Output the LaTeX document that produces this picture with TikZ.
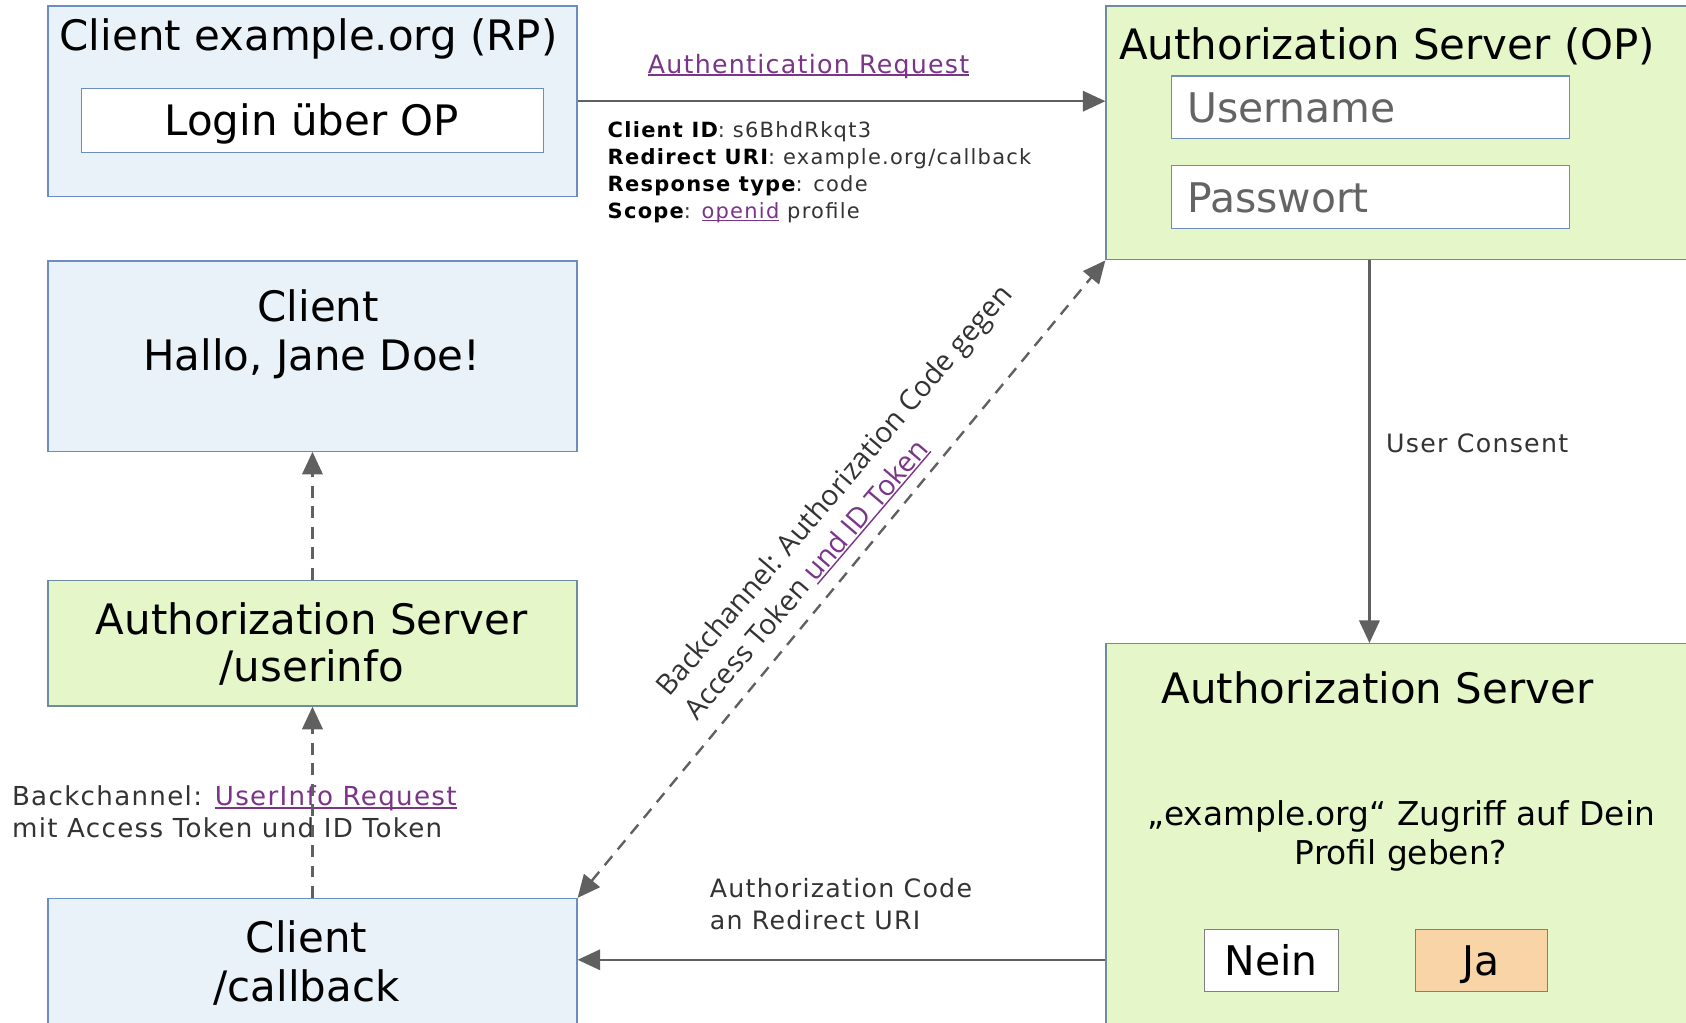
\documentclass[tikz,border=0pt]{standalone}
\usepackage{fontspec}
\setmainfont{DejaVu Sans}
\newfontfamily\lblfont[LetterSpace=5]{DejaVu Sans}
\newfontfamily\prmfont[LetterSpace=6]{DejaVu Sans}
\newfontfamily\diagfont{Open Sans}
\usetikzlibrary{arrows.meta}
\definecolor{bluefill}{RGB}{233,241,249}
\definecolor{blueline}{RGB}{108,142,191}
\definecolor{greenfill}{RGB}{229,246,200}
\definecolor{greenline}{RGB}{110,140,160}
\definecolor{peach}{RGB}{248,212,166}
\definecolor{arrgray}{RGB}{96,96,96}
\definecolor{txtgray}{RGB}{51,51,51}
\definecolor{fieldgray}{RGB}{100,100,100}
\definecolor{linkpurple}{RGB}{122,52,136}
\newcommand\lnk[1]{\setbox0\hbox{#1}\rlap{\rule[-2.5pt]{\wd0}{1.3pt}}\box0}
\begin{document}
\begin{tikzpicture}[x=1pt,y=-1pt,
  box/.style={line width=1.2pt, inner sep=0pt, anchor=north west},
  bluebox/.style={box, draw=blueline, fill=bluefill},
  greenbox/.style={box, draw=greenline, fill=greenfill},
  whitebox/.style={box, draw=blueline, fill=white},
  btnbox/.style={box, draw=arrgray!80, line width=1pt},
  title/.style={inner sep=0pt, anchor=base, font=\fontsize{39}{46}\selectfont},
  field/.style={inner sep=0pt, anchor=base west, text=fieldgray, font=\fontsize{38}{44}\selectfont},
  question/.style={inner sep=0pt, anchor=base, font=\fontsize{30.5}{36}\selectfont},
  lbl/.style={inner sep=0pt, anchor=base west, text=txtgray, font=\lblfont\fontsize{23.5}{30}\selectfont},
  prm/.style={inner sep=0pt, anchor=base west, text=txtgray, font=\prmfont\fontsize{19.5}{25}\selectfont},
  arr/.style={draw=arrgray, line width=2.2pt, -{Triangle[length=21pt,width=19pt]}},
  dsh/.style={arr, dash pattern=on 11pt off 8pt}
]
\useasboundingbox (0,0) rectangle (1568,951);
\clip (0,0) rectangle (1568,951);

% boxes
\node[bluebox, minimum width=492pt, minimum height=177pt] (A) at (44,5) {};
\node[whitebox, minimum width=430pt, minimum height=59pt] (login) at (75,82) {};
\node[greenbox, minimum width=560pt, minimum height=236pt] (B) at (1028,5) {};
\node[whitebox, minimum width=370pt, minimum height=58pt] (user) at (1089,70) {};
\node[whitebox, minimum width=370pt, minimum height=59pt] (pass) at (1089,153) {};
\node[greenbox, minimum width=560pt, minimum height=370pt] (C) at (1028,598) {};
\node[btnbox, fill=white, minimum width=124pt, minimum height=58pt] (nein) at (1120,864) {};
\node[btnbox, fill=peach, minimum width=123pt, minimum height=58pt] (ja) at (1316,864) {};
\node[bluebox, minimum width=492pt, minimum height=130pt] (D) at (44,835) {};
\node[greenbox, minimum width=492pt, minimum height=117pt] (E) at (44,539) {};
\node[bluebox, minimum width=492pt, minimum height=177pt] (F) at (44,242) {};

% box texts
\node[title] (Atitle) at (287,47) {Client example.org (RP)};
\node[title] (logintxt) at (290,126) {Login über OP};
\node[title] (Btitle) at (1290,55) {Authorization Server (OP)};
\node[field] (usertxt) at (1104,114) {Username};
\node[field] (passtxt) at (1104,198) {Passwort};
\node[title] (Ctitle) at (1281,654) {Authorization Server};
\node[question] (q1) at (1303,768) {„example.org“ Zugriff auf Dein};
\node[question] (q2) at (1303,804) {Profil geben?};
\node[title, font=\fontsize{38}{44}\selectfont] (neintxt) at (1182,907) {Nein};
\node[title, font=\fontsize{38}{44}\selectfont] (jatxt) at (1377,907) {Ja};
\node[title] (D1) at (285,886) {Client};
\node[title] (D2) at (285,931) {/callback};
\node[title] (E1) at (290,590) {Authorization Server};
\node[title] (E2) at (290,634) {/userinfo};
\node[title] (F1) at (296,299) {Client};
\node[title] (F2) at (290,345) {Hallo, Jane Doe!};

% labels
\node[lbl, anchor=base] (authreq) at (752,68) {\color{linkpurple}\lnk{Authentication Request}};
\node[prm] (p1) at (565,128) {{\color{black}\bfseries Client ID}: s6BhdRkqt3};
\node[prm] (p2) at (565,153) {{\color{black}\bfseries Redirect URI}: example.org/callback};
\node[prm] (p3) at (565,178) {{\color{black}\bfseries Response type}: code};
\node[prm] (p4) at (565,203) {{\color{black}\bfseries Scope}: {\color{linkpurple}\lnk{openid}} profile};
\node[lbl] (consent) at (1289,421) {User Consent};
\node[lbl] (code1) at (660,834.5) {Authorization Code};
\node[lbl] (code2) at (660,864.5) {an Redirect URI};
\node[lbl, font=\lblfont\fontsize{24.3}{30}\selectfont] (ui1) at (11,749.5) {Backchannel: {\color{linkpurple}\lnk{UserInfo Request}}};
\node[lbl, font=\lblfont\fontsize{24.3}{30}\selectfont] (ui2) at (11,778.5) {mit Access Token und ID Token};
\node[rotate=49.5, align=left, inner sep=0pt, text=txtgray,
      font=\diagfont\fontsize{26.5}{34}\selectfont] (diag) at (789,467)
      {Backchannel: Authorization Code gegen\\Access Token {\color{linkpurple}\lnk{und ID Token}}};

% connectors
\coordinate (bc) at ([xshift=-35pt]B.south);
\coordinate (dE) at ([yshift=8pt]D.east);
\draw[arr] (A.east) -- (A.east -| B.west);
\draw[arr] (bc) -- (bc |- C.north);
\draw[arr] (dE -| C.west) -- (dE);
\draw[dsh, {Triangle[length=21pt,width=19pt]}-{Triangle[length=21pt,width=19pt]}] (D.north east) -- (B.south west);
\draw[dsh] (D.north) -- (E.south);
\draw[dsh] (E.north) -- (F.south);
\end{tikzpicture}
\end{document}
